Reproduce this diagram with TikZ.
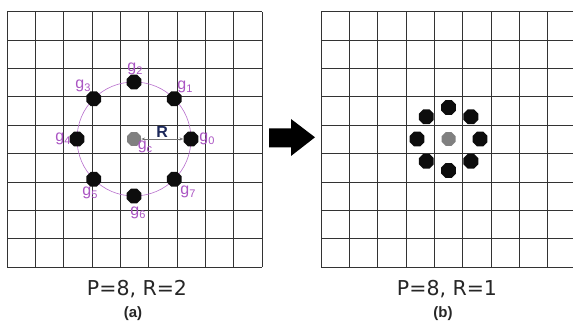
\documentclass[tikz,border=0pt]{standalone}
\usepackage{fontspec}
\setmainfont{Liberation Sans}
\newfontfamily\capfont{DejaVu Sans}
\usetikzlibrary{arrows.meta,shapes.geometric,positioning}
\definecolor{lbpurple}{RGB}{170,85,195}
\definecolor{rnavy}{RGB}{28,40,90}
\newcommand{\gsub}[1]{g\raisebox{-0.35ex}{\fontsize{11}{11}\selectfont #1}}
\tikzset{
  gridline/.style={draw=black!80,line width=0.8pt},
  dot/.style={regular polygon,regular polygon sides=8,fill=black!95,draw=none,minimum size=16,inner sep=0pt},
  cdot/.style={dot,fill=black!50,minimum size=15},
  glabel/.style={text=lbpurple,font=\fontsize{16}{16}\selectfont,inner sep=0pt},
  ring/.style={draw=lbpurple!85,line width=0.6pt},
  caption/.style={font=\capfont\fontsize{20.5}{21}\selectfont,text=black!85},
  sublabel/.style={font=\bfseries\fontsize{15}{15}\selectfont,text=black!85}
}
\begin{document}
\begin{tikzpicture}[x=1pt,y=1pt]
        \useasboundingbox (0,0) rectangle (573,323);
        % the two pixel grids
        \draw[gridline,shift={(7,56)}] (0,0) grid[step=28.35] (255.2,255.2);
        \draw[gridline,shift={(321,56)}] (0,0) grid[step=28.35] (252,255.2);
        % left: P=8, R=2
        \node[cdot] (gc) at (134,184) {};
        \draw[ring] (gc) circle[radius=57];
        \foreach \i/\lx/\ly in {0/207/184,1/185/236,2/135/254,3/83/237,4/63/184,5/90/130,6/138/110,7/188/131} {
          \node[dot] (g\i) at ([shift={(\i*45:57)}]gc) {};
          \node[glabel] (lg\i) at (\lx,\ly) {\gsub{\i}};
        }
        \node[glabel] (lgc) at (145,176) {\gsub{c}};
        \draw[{Stealth[length=4pt,open]}-{Stealth[length=4pt,open]},draw=black!55,line width=0.6pt]
          (gc.east) -- node[above,inner sep=1.5pt,text=rnavy,font=\bfseries\fontsize{16}{16}\selectfont] (rlab) {R} (g0.west);
        % arrow between the panels
        \fill[black] (269,175.7) -- (291,175.7) -- (291,167) -- (315,185.7)
          -- (291,204) -- (291,194.7) -- (269,194.7) -- cycle;
        % right: P=8, R=1
        \node[cdot] (hc) at (448.6,184) {};
        \foreach \i in {0,...,7}
          \node[dot] (h\i) at ([shift={(\i*45:31.5)}]hc) {};
        % captions
        \node[caption] (capa) at (137,34) {P=8, R=2};
        \node[sublabel] (suba) at (133,9) {(a)};
        \node[caption] (capb) at (447,34) {P=8, R=1};
        \node[sublabel] (subb) at (443,9) {(b)};
\end{tikzpicture}
\end{document}
